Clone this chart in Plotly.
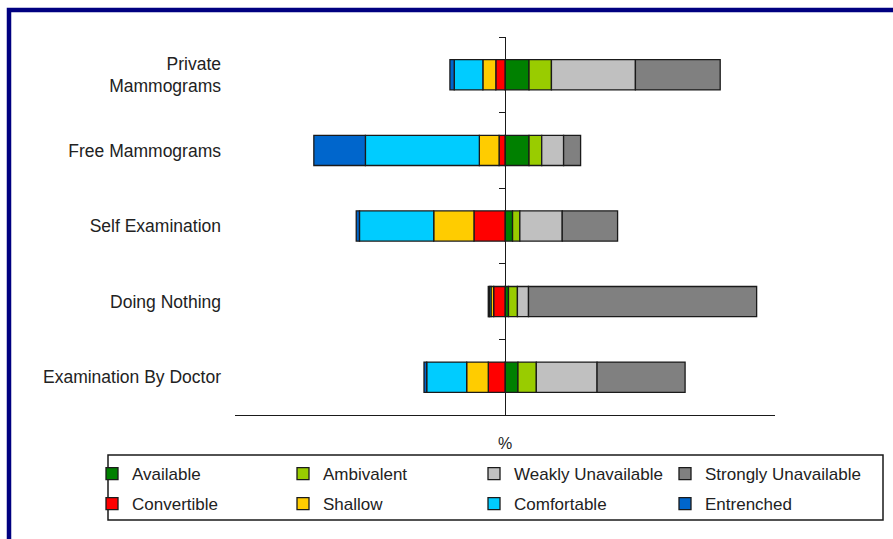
import plotly.graph_objects as go

# ---- data (percent of respondents) ----
categories = ["Private<br>Mammograms", "Free Mammograms", "Self Examination",
              "Doing Nothing", "Examination By Doctor"]
available   = [8.9, 8.9, 2.8, 1.3, 4.8]
ambivalent  = [8.3, 4.7, 2.7, 3.3, 6.8]
weakly      = [31.1, 8.1, 15.7, 4.1, 22.5]
strongly    = [31.4, 6.3, 20.5, 84.5, 32.6]
convertible = [3.4, 2.2, 11.5, 4.2, 6.2]
shallow     = [4.8, 7.3, 14.9, 1.0, 8.0]
comfortable = [10.6, 42.2, 27.5, 0.6, 14.8]
entrenched  = [1.6, 19.1, 1.2, 0.4, 1.0]

X_MIN, X_MAX = -100, 100

# ---- layout geometry ----
W, H = 893, 539
ML, MR, MT, MB = 235, 118, 37, 124
PW, PH = W - ML - MR, H - MT - MB

def px_x(px):
    return (px - ML) / PW

def px_y(py):
    return (H - MB - py) / PH

FONT = "Liberation Sans, Arial, sans-serif"
TXT = "#222222"
EDGE = "#1a1a1a"

series = [
    ("Available", available, 1, "#008000", "legend"),
    ("Ambivalent", ambivalent, 1, "#99CC00", "legend"),
    ("Weakly Unavailable", weakly, 1, "#C0C0C0", "legend"),
    ("Strongly Unavailable", strongly, 1, "#808080", "legend3"),
    ("Convertible", convertible, -1, "#FF0000", "legend2"),
    ("Shallow", shallow, -1, "#FFCC00", "legend2"),
    ("Comfortable", comfortable, -1, "#00CCFF", "legend2"),
    ("Entrenched", entrenched, -1, "#0066CC", "legend2"),
]

fig = go.Figure()
for name, vals, sign, color, leg in series:
    fig.add_trace(go.Bar(
        name=name, y=categories, x=[sign * v for v in vals], orientation="h",
        marker=dict(color=color, line=dict(color=EDGE, width=1.3)),
        legend=leg,
    ))

# invisible trace to carry the zero-positioned axis with boundary ticks
fig.add_trace(go.Scatter(
    y=categories, x=[0] * len(categories), yaxis="y2", mode="markers",
    marker=dict(opacity=0), showlegend=False, hoverinfo="skip",
))

zero_pos = (0 - X_MIN) / (X_MAX - X_MIN)

leg_common = dict(
    orientation="h", xanchor="left", yanchor="middle",
    font=dict(family=FONT, size=17, color=TXT),
    bgcolor="rgba(0,0,0,0)", borderwidth=0,
    entrywidthmode="pixels", traceorder="normal",
)
COL = 191  # column spacing of legend entries

fig.update_layout(
    width=W, height=H,
    margin=dict(l=ML, r=MR, t=MT, b=MB, autoexpand=False),
    paper_bgcolor="white", plot_bgcolor="white",
    barmode="relative", bargap=0.6,
    font=dict(family=FONT, size=17, color=TXT),
    xaxis=dict(
        range=[X_MIN, X_MAX], showgrid=False, zeroline=False,
        showticklabels=False, ticks="", showline=True,
        linecolor=EDGE, linewidth=1.3,
        title=dict(text="%", standoff=22, font=dict(family=FONT, size=16, color=TXT)),
    ),
    yaxis=dict(
        type="category", categoryorder="array", categoryarray=categories,
        range=[len(categories) - 0.5, -0.5],
        showgrid=False, zeroline=False, showline=False, ticks="",
        ticklabelstandoff=13,
        tickfont=dict(family=FONT, size=17.5, color=TXT),
    ),
    yaxis2=dict(
        type="category", categoryorder="array", categoryarray=categories,
        range=[len(categories) - 0.5, -0.5],
        overlaying="y", anchor="free", position=zero_pos, side="left",
        showgrid=False, zeroline=False, showline=True,
        linecolor=EDGE, linewidth=1.3,
        ticks="outside", ticklen=6, tickwidth=1.3, tickcolor=EDGE,
        tickson="boundaries", showticklabels=False,
    ),
    legend=dict(x=px_x(92), y=px_y(474), entrywidth=COL - 45, **leg_common),
    legend2=dict(x=px_x(92), y=px_y(504), entrywidth=COL - 45, **leg_common),
    legend3=dict(x=px_x(92 + 3 * COL), y=px_y(474), entrywidth=0, **leg_common),
    shapes=[
        # legend frame
        dict(type="rect", xref="paper", yref="paper",
             x0=px_x(108), x1=px_x(883), y0=px_y(455), y1=px_y(520),
             line=dict(color=EDGE, width=1.5), fillcolor="rgba(0,0,0,0)"),
        # outer navy frame
        dict(type="rect", xref="paper", yref="paper",
             x0=px_x(9), x1=px_x(960), y0=px_y(10), y1=px_y(620),
             line=dict(color="#000080", width=4.5), fillcolor="rgba(0,0,0,0)"),
    ],
)

fig.write_html("out.html")
